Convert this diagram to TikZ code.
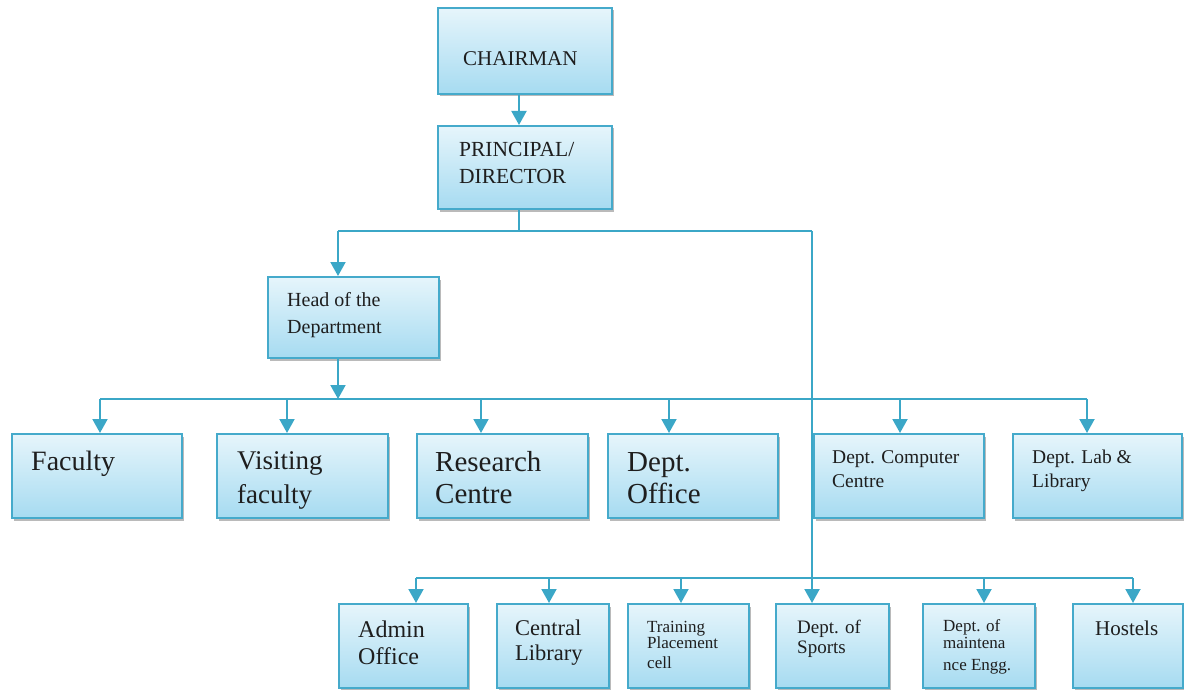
\documentclass[tikz,border=0pt]{standalone}
\usepackage{fontspec}
\setmainfont{Liberation Serif}
\usetikzlibrary{arrows.meta,shadows}
\definecolor{lnc}{HTML}{3BA7C7}
\definecolor{bordc}{HTML}{45AACB}
\definecolor{topc}{HTML}{E6F5FB}
\definecolor{botc}{HTML}{A6DBF1}
\definecolor{txc}{HTML}{1E1E1E}
\tikzset{
  box/.style={draw=bordc, line width=2pt, top color=topc, bottom color=botc,
    drop shadow={shadow xshift=1.5pt, shadow yshift=-2.5pt, opacity=0.45, fill=black!60},
    inner sep=0pt, anchor=north west},
  conn/.style={draw=lnc, line width=2pt},
  arr/.style={conn, -{Triangle[width=15pt,length=14pt]}},
  txt/.style={anchor=base west, align=left, inner sep=0pt, text=txc},
}
\newcommand{\fs}[2]{\fontsize{#1}{#2}\selectfont}
\begin{document}
\begin{tikzpicture}[x=1pt,y=-1pt]
\useasboundingbox (0,0) rectangle (1184,690);
% boxes
\node[box, minimum width=174pt, minimum height=86pt] (chair) at (437,7) {};
\node[box, minimum width=174pt, minimum height=83pt] (prin) at (437,125) {};
\node[box, minimum width=171pt, minimum height=81pt] (head) at (267,276) {};
\node[box, minimum width=170pt, minimum height=84pt] (fac) at (11,433) {};
\node[box, minimum width=171pt, minimum height=84pt] (vis) at (216,433) {};
\node[box, minimum width=171pt, minimum height=84pt] (res) at (416,433) {};
\node[box, minimum width=170pt, minimum height=84pt] (off) at (607,433) {};
\node[box, minimum width=170pt, minimum height=84pt] (comp) at (813,433) {};
\node[box, minimum width=169pt, minimum height=84pt] (lab) at (1012,433) {};
\node[box, minimum width=129pt, minimum height=84pt] (adm) at (338,603) {};
\node[box, minimum width=112pt, minimum height=84pt] (clib) at (496,603) {};
\node[box, minimum width=121pt, minimum height=84pt] (trn) at (627,603) {};
\node[box, minimum width=113pt, minimum height=84pt] (spt) at (775,603) {};
\node[box, minimum width=112pt, minimum height=84pt] (mnt) at (922,603) {};
\node[box, minimum width=110pt, minimum height=84pt] (hos) at (1072,603) {};
% texts (anchor = baseline of last line)
\node[txt, font=\fs{21}{25}] at (463,66) {CHAIRMAN};
\node[txt, font=\fs{21.5}{27}] at (459,183) {PRINCIPAL/\\DIRECTOR};
\node[txt, font=\fs{20}{27}] at (287,333) {Head of the\\Department};
\node[txt, font=\fs{28}{32}] at (31,470) {Faculty};
\node[txt, font=\fs{27}{34}] at (237,503) {Visiting\\faculty};
\node[txt, font=\fs{29}{32}] at (435,503) {Research\\Centre};
\node[txt, font=\fs{29}{32}] at (627,503) {Dept.\\Office};
\node[txt, font=\fs{19.5}{24}] at (832,487) {Dept. Computer\\Centre};
\node[txt, font=\fs{19.5}{24}] at (1032,487) {Dept. Lab \&\\Library};
\node[txt, font=\fs{24}{27}] at (358,664) {Admin\\Office};
\node[txt, font=\fs{22.5}{25}] at (515,660) {Central\\Library};
\node[txt, font=\fs{17}{16}] at (647,668) {Training\\Placement\\[4pt]cell};
\node[txt, font=\fs{19}{20}] at (797,653) {Dept. of\\Sports};
\node[txt, font=\fs{17}{17}] at (943,670) {Dept. of\\maintena\\[5pt]nce Engg.};
\node[txt, font=\fs{21}{25}] at (1095,635) {Hostels};
% junctions
\coordinate (j1) at (519,231);
\coordinate (jh) at (338,231);
\coordinate (jv) at (812,231);
\coordinate (b2) at (338,399);
\coordinate (b2l) at (100,399);
\coordinate (b2r) at (1087,399);
\coordinate (b3l) at (416,578);
\coordinate (b3r) at (1133,578);
% connectors
\draw[arr] (chair.south -| j1) -- (prin.north -| j1);
\draw[conn] (prin.south -| j1) -- (j1);
\draw[conn] (jh) -- (jv);
\draw[arr] (jh) -- (head.north -| jh);
\draw[arr] (jv) -- (spt.north -| jv);
\draw[arr] (head.south -| b2) -- (b2);
\draw[conn] (b2l) -- (b2r);
\draw[arr] (b2l) -- (fac.north -| b2l);
\draw[arr] (b2l -| 287,0) -- (vis.north -| 287,0);
\draw[arr] (b2l -| 481,0) -- (res.north -| 481,0);
\draw[arr] (b2l -| 669,0) -- (off.north -| 669,0);
\draw[arr] (b2l -| 900,0) -- (comp.north -| 900,0);
\draw[arr] (b2r) -- (lab.north -| b2r);
\draw[conn] (b3l) -- (b3r);
\draw[arr] (b3l) -- (adm.north -| b3l);
\draw[arr] (b3l -| 549,0) -- (clib.north -| 549,0);
\draw[arr] (b3l -| 681,0) -- (trn.north -| 681,0);
\draw[arr] (b3l -| 984,0) -- (mnt.north -| 984,0);
\draw[arr] (b3r) -- (hos.north -| b3r);
\end{tikzpicture}
\end{document}
